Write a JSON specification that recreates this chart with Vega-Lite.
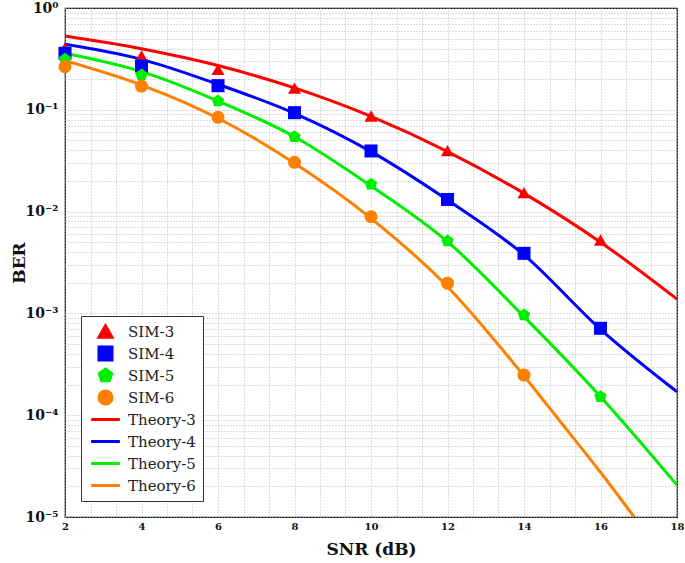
{
  "$schema": "https://vega.github.io/schema/vega-lite/v6.json",
  "width": 612,
  "height": 509,
  "autosize": {"type": "none"},
  "padding": {"left": 65, "top": 8, "right": 8, "bottom": 46},
  "config": {
    "view": {"stroke": "black", "strokeWidth": 1.2},
    "font": "DejaVu Serif",
    "legend": {
      "title": null,
      "orient": "bottom-left",
      "offset": 16,
      "strokeColor": "#333333",
      "fillColor": "white",
      "padding": 7,
      "labelFont": "DejaVu Serif",
      "labelFontSize": 15,
      "labelColor": "#222222",
      "rowPadding": 5,
      "clipHeight": 17,
      "symbolOpacity": 1,
      "symbolSize": 170,
      "symbolStrokeWidth": 3,
      "symbolOffset": 9,
      "labelOffset": 14
    },
    "axis": {
      "titleFont": "DejaVu Serif",
      "titleFontSize": 17,
      "titleFontWeight": "bold",
      "titleColor": "#111111",
      "labelFont": "DejaVu Serif",
      "labelFontWeight": "bold",
      "labelColor": "#111111",
      "domain": false,
      "ticks": false,
      "labelOverlap": false,
      "labelFlush": false,
      "grid": true,
      "gridColor": "#b8b8b8",
      "gridDash": [1, 2],
      "gridWidth": 1
    }
  },
  "datasets": {
    "sim": [
      {"snr": 2, "ber": 0.405, "series": "SIM-3"},
      {"snr": 4, "ber": 0.338, "series": "SIM-3"},
      {"snr": 6, "ber": 0.25, "series": "SIM-3"},
      {"snr": 8, "ber": 0.163, "series": "SIM-3"},
      {"snr": 10, "ber": 0.0869, "series": "SIM-3"},
      {"snr": 12, "ber": 0.0398, "series": "SIM-3"},
      {"snr": 14, "ber": 0.01534, "series": "SIM-3"},
      {"snr": 16, "ber": 0.00526, "series": "SIM-3"},
      {"snr": 2, "ber": 0.359, "series": "SIM-4"},
      {"snr": 4, "ber": 0.269, "series": "SIM-4"},
      {"snr": 6, "ber": 0.1725, "series": "SIM-4"},
      {"snr": 8, "ber": 0.0937, "series": "SIM-4"},
      {"snr": 10, "ber": 0.0394, "series": "SIM-4"},
      {"snr": 12, "ber": 0.01315, "series": "SIM-4"},
      {"snr": 14, "ber": 0.00389, "series": "SIM-4"},
      {"snr": 16, "ber": 0.000714, "series": "SIM-4"},
      {"snr": 2, "ber": 0.313, "series": "SIM-5"},
      {"snr": 4, "ber": 0.22, "series": "SIM-5"},
      {"snr": 6, "ber": 0.122, "series": "SIM-5"},
      {"snr": 8, "ber": 0.0544, "series": "SIM-5"},
      {"snr": 10, "ber": 0.01854, "series": "SIM-5"},
      {"snr": 12, "ber": 0.00514, "series": "SIM-5"},
      {"snr": 14, "ber": 0.000965, "series": "SIM-5"},
      {"snr": 16, "ber": 0.000152, "series": "SIM-5"},
      {"snr": 2, "ber": 0.265, "series": "SIM-6"},
      {"snr": 4, "ber": 0.171, "series": "SIM-6"},
      {"snr": 6, "ber": 0.0844, "series": "SIM-6"},
      {"snr": 8, "ber": 0.0305, "series": "SIM-6"},
      {"snr": 10, "ber": 0.00891, "series": "SIM-6"},
      {"snr": 12, "ber": 0.00198, "series": "SIM-6"},
      {"snr": 14, "ber": 0.000248, "series": "SIM-6"}
    ],
    "theory": [
      {"snr": 2, "ber": 0.531, "series": "Theory-3"},
      {"snr": 4, "ber": 0.398, "series": "Theory-3"},
      {"snr": 6, "ber": 0.272, "series": "Theory-3"},
      {"snr": 8, "ber": 0.164, "series": "Theory-3"},
      {"snr": 10, "ber": 0.0861, "series": "Theory-3"},
      {"snr": 12, "ber": 0.0389, "series": "Theory-3"},
      {"snr": 14, "ber": 0.0151, "series": "Theory-3"},
      {"snr": 16, "ber": 0.00501, "series": "Theory-3"},
      {"snr": 18, "ber": 0.00138, "series": "Theory-3"},
      {"snr": 2, "ber": 0.44, "series": "Theory-4"},
      {"snr": 4, "ber": 0.313, "series": "Theory-4"},
      {"snr": 6, "ber": 0.178, "series": "Theory-4"},
      {"snr": 8, "ber": 0.0923, "series": "Theory-4"},
      {"snr": 10, "ber": 0.0388, "series": "Theory-4"},
      {"snr": 12, "ber": 0.013, "series": "Theory-4"},
      {"snr": 14, "ber": 0.00375, "series": "Theory-4"},
      {"snr": 16, "ber": 0.000698, "series": "Theory-4"},
      {"snr": 18, "ber": 0.00017, "series": "Theory-4"},
      {"snr": 2, "ber": 0.359, "series": "Theory-5"},
      {"snr": 4, "ber": 0.237, "series": "Theory-5"},
      {"snr": 6, "ber": 0.122, "series": "Theory-5"},
      {"snr": 8, "ber": 0.0544, "series": "Theory-5"},
      {"snr": 10, "ber": 0.01785, "series": "Theory-5"},
      {"snr": 12, "ber": 0.00506, "series": "Theory-5"},
      {"snr": 14, "ber": 0.000929, "series": "Theory-5"},
      {"snr": 16, "ber": 0.000152, "series": "Theory-5"},
      {"snr": 18, "ber": 0.0000206, "series": "Theory-5"},
      {"snr": 2, "ber": 0.303, "series": "Theory-6"},
      {"snr": 4, "ber": 0.175, "series": "Theory-6"},
      {"snr": 6, "ber": 0.0826, "series": "Theory-6"},
      {"snr": 8, "ber": 0.0298, "series": "Theory-6"},
      {"snr": 10, "ber": 0.00859, "series": "Theory-6"},
      {"snr": 12, "ber": 0.00183, "series": "Theory-6"},
      {"snr": 14, "ber": 0.000243, "series": "Theory-6"},
      {"snr": 15, "ber": 0.000082, "series": "Theory-6"},
      {"snr": 16, "ber": 0.0000275, "series": "Theory-6"},
      {"snr": 17, "ber": 0.0000087, "series": "Theory-6"}
    ]
  },
  "encoding": {
    "x": {
      "field": "snr",
      "type": "quantitative",
      "scale": {"domain": [2, 18], "nice": false, "zero": false},
      "axis": {
        "orient": "bottom",
        "title": "SNR (dB)",
        "titlePadding": 10,
        "labelFontSize": 10,
        "labelPadding": 4,
        "labelOverlap": false,
        "values": [2, 2.6667, 3.3333, 4, 4.6667, 5.3333, 6, 6.6667, 7.3333, 8, 8.6667, 9.3333, 10, 10.6667, 11.3333, 12, 12.6667, 13.3333, 14, 14.6667, 15.3333, 16, 16.6667, 17.3333, 18],
        "labelExpr": "indexof([2, 4, 6, 8, 10, 12, 14, 16, 18], datum.value) >= 0 ? format(datum.value, 'd') : ''"
      }
    },
    "y": {
      "field": "ber",
      "type": "quantitative",
      "scale": {"type": "log", "domain": [0.00001, 1], "nice": false},
      "axis": {
        "orient": "left",
        "title": "BER",
        "titleX": -37,
        "labelFontSize": 14,
        "labelPadding": 7,
        "labelOverlap": false,
        "values": [0.00001, 0.00002, 0.00003, 0.00004, 0.00005, 0.00006, 0.00007, 0.00008, 0.00009, 0.0001, 0.0002, 0.0003, 0.0004, 0.0005, 0.0006, 0.0007, 0.0008, 0.0009, 0.001, 0.002, 0.003, 0.004, 0.005, 0.006, 0.007, 0.008, 0.009, 0.01, 0.02, 0.03, 0.04, 0.05, 0.06, 0.07, 0.08, 0.09, 0.1, 0.2, 0.3, 0.4, 0.5, 0.6, 0.7, 0.8, 0.9, 1],
        "labelExpr": "datum.value == 1 ? '10⁰' : datum.value == 0.1 ? '10⁻¹' : datum.value == 0.01 ? '10⁻²' : datum.value == 0.001 ? '10⁻³' : datum.value == 0.0001 ? '10⁻⁴' : datum.value == 0.00001 ? '10⁻⁵' : ''"
      }
    }
  },
  "layer": [
    {
      "data": {"name": "theory"},
      "mark": {"type": "line", "strokeWidth": 3, "interpolate": "monotone", "clip": true},
      "encoding": {
        "color": {
          "field": "series",
          "type": "nominal",
          "scale": {
            "domain": ["SIM-3", "SIM-4", "SIM-5", "SIM-6", "Theory-3", "Theory-4", "Theory-5", "Theory-6"],
            "range": ["#ff0000", "#0000ff", "#00ee00", "#ff8000", "#ff0000", "#0000ff", "#00ee00", "#ff8000"]
          },
          "legend": {"labelFont": "DejaVu Serif", "labelFontSize": 15}
        }
      }
    },
    {
      "data": {"name": "sim"},
      "mark": {"type": "point", "filled": true, "opacity": 1, "size": 170},
      "encoding": {
        "color": {"field": "series", "type": "nominal"},
        "shape": {
          "field": "series",
          "type": "nominal",
          "scale": {
            "domain": ["SIM-3", "SIM-4", "SIM-5", "SIM-6", "Theory-3", "Theory-4", "Theory-5", "Theory-6"],
            "range": ["triangle-up", "square", "M0,-1L0.951,-0.309L0.588,0.809L-0.588,0.809L-0.951,-0.309Z", "circle", "M-2.2,0L2.2,0", "M-2.2,0L2.2,0", "M-2.2,0L2.2,0", "M-2.2,0L2.2,0"]
          },
          "legend": {"labelFont": "DejaVu Serif", "labelFontSize": 15}
        }
      }
    }
  ]
}
